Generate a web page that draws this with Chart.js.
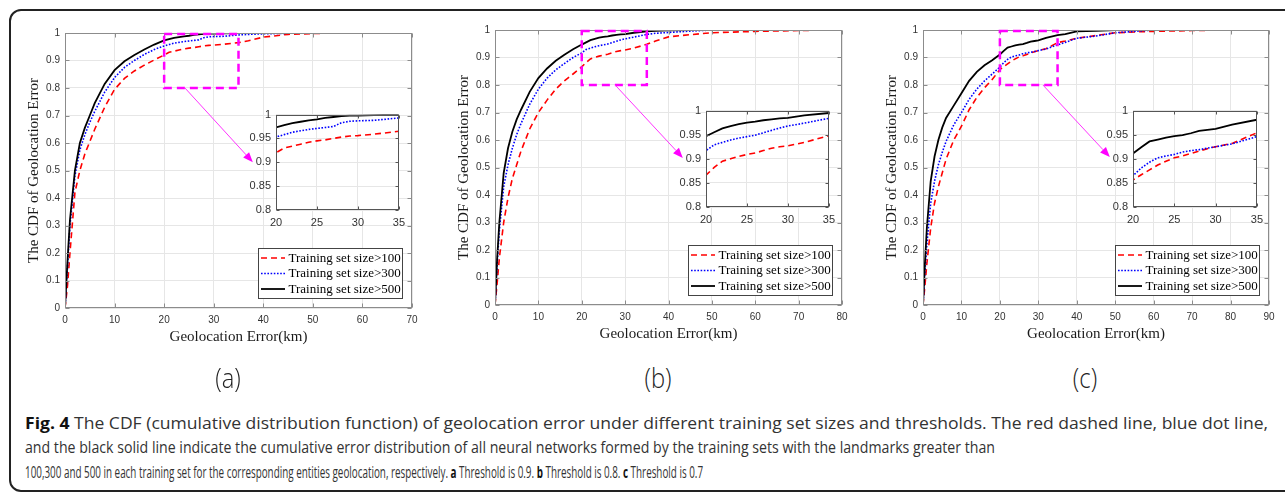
<!DOCTYPE html>
<html>
<head>
<meta charset="utf-8">
<script src="https://cdn.jsdelivr.net/npm/chart.js@4.4.1/dist/chart.umd.min.js"></script>
<style>
  html, body { margin: 0; padding: 0; background: #fff; }
  #page { position: relative; width: 1285px; height: 494px; overflow: hidden; }
  #frame { position: absolute; left: 9px; top: 9px; width: 1300px; height: 479px; border: 2px solid #222; border-radius: 12px; }
  canvas { position: absolute; }
  .tag { position: absolute; top: 358px; font: 300 28px "Open Sans", sans-serif; color: #222; transform: translateX(-50%) scaleX(0.85); }
  .cap { position: absolute; left: 25px; width: max-content; white-space: nowrap; font: 16px/20px "Open Sans", sans-serif; color: #333; transform-origin: 0 0; }
  .cap b { color: #111; }
</style>
</head>
<body>
<div id="page">
  <div id="frame"></div>
  <div class="cap" id="cap1" data-w="1243"><b>Fig. 4</b> The CDF (cumulative distribution function) of geolocation error under different training set sizes and thresholds. The red dashed line, blue dot line,</div>
  <div class="cap" id="cap2" data-w="970">and the black solid line indicate the cumulative error distribution of all neural networks formed by the training sets with the landmarks greater than</div>
  <div class="cap" id="cap3" data-w="678">100,300 and 500 in each training set for the corresponding entities geolocation, respectively. <b>a</b> Threshold is 0.9. <b>b</b> Threshold is 0.8. <b>c</b> Threshold is 0.7</div>
</div>
<script>
// ===== data =====
const seriesNames = ["Training set size>100", "Training set size>300", "Training set size>500"];
const panelTags = ["(a)", "(b)", "(c)"];
const errMaxKm = [70, 80, 90];

// (a) threshold 0.9
const errA = [0, 0.5, 1, 2, 3, 4, 5, 6, 8, 10, 12, 14, 16, 18, 20, 21, 22, 23, 24, 25, 26, 27, 28, 29, 30, 32, 35, 37, 40, 45, 50, 55, 60];
const cdfA100 = [0, 0.08, 0.2, 0.42, 0.5, 0.56, 0.605, 0.65, 0.73, 0.795, 0.835, 0.862, 0.883, 0.902, 0.92, 0.93, 0.934, 0.938, 0.942, 0.945, 0.947, 0.95, 0.953, 0.955, 0.956, 0.959, 0.965, 0.972, 0.985, 0.995, 0.998, 1, 1];
const cdfA300 = [0, 0.15, 0.3, 0.48, 0.575, 0.63, 0.675, 0.715, 0.785, 0.838, 0.875, 0.9, 0.922, 0.94, 0.953, 0.958, 0.963, 0.966, 0.969, 0.971, 0.973, 0.975, 0.983, 0.986, 0.987, 0.988, 0.993, 0.995, 0.997, 0.999, 1];
const cdfA500 = [0, 0.17, 0.32, 0.5, 0.6, 0.655, 0.7, 0.745, 0.815, 0.865, 0.897, 0.92, 0.94, 0.958, 0.973, 0.978, 0.982, 0.985, 0.988, 0.99, 0.993, 0.995, 0.997, 0.998, 0.998, 0.999, 1, 1, 1, 1, 1];

// (b) threshold 0.8
const errB = [0, 0.5, 1, 2, 3, 4, 5, 6, 8, 10, 12, 14, 16, 18, 20, 21, 22, 23, 24, 25, 26, 27, 28, 29, 30, 32, 35, 37, 40, 45, 50, 60, 70, 77];
const cdfB100 = [0, 0.08, 0.17, 0.3, 0.39, 0.46, 0.51, 0.56, 0.64, 0.7, 0.745, 0.785, 0.815, 0.84, 0.866, 0.882, 0.895, 0.9, 0.905, 0.909, 0.912, 0.917, 0.922, 0.925, 0.927, 0.934, 0.948, 0.96, 0.975, 0.983, 0.99, 0.995, 0.998, 1];
const cdfB300 = [0, 0.15, 0.27, 0.43, 0.51, 0.57, 0.62, 0.66, 0.73, 0.785, 0.825, 0.855, 0.878, 0.9, 0.917, 0.929, 0.934, 0.939, 0.943, 0.946, 0.949, 0.954, 0.959, 0.964, 0.968, 0.974, 0.984, 0.988, 0.991, 0.996, 1];
const cdfB500 = [0, 0.17, 0.3, 0.48, 0.57, 0.63, 0.675, 0.71, 0.775, 0.825, 0.86, 0.888, 0.91, 0.93, 0.947, 0.955, 0.963, 0.968, 0.972, 0.975, 0.977, 0.98, 0.982, 0.984, 0.985, 0.99, 0.995, 0.997, 0.999, 1, 1];

// (c) threshold 0.7
const errC = [0, 0.5, 1, 2, 3, 4, 5, 6, 8, 10, 12, 14, 16, 18, 20, 21, 22, 23, 24, 25, 26, 27, 28, 29, 30, 32, 35, 37, 40, 45, 50, 55, 60, 70, 80];
const cdfC100 = [0, 0.07, 0.15, 0.28, 0.37, 0.43, 0.48, 0.53, 0.6, 0.65, 0.71, 0.755, 0.79, 0.82, 0.856, 0.867, 0.877, 0.887, 0.895, 0.902, 0.906, 0.911, 0.916, 0.921, 0.925, 0.932, 0.954, 0.96, 0.97, 0.98, 0.99, 0.993, 0.995, 0.998, 1];
const cdfC300 = [0, 0.12, 0.22, 0.37, 0.45, 0.51, 0.555, 0.595, 0.655, 0.7, 0.748, 0.785, 0.815, 0.84, 0.865, 0.881, 0.893, 0.902, 0.906, 0.909, 0.914, 0.917, 0.919, 0.922, 0.925, 0.931, 0.946, 0.955, 0.97, 0.978, 0.99, 0.995, 1];
const cdfC500 = [0, 0.15, 0.28, 0.45, 0.54, 0.6, 0.645, 0.68, 0.725, 0.77, 0.815, 0.848, 0.872, 0.89, 0.911, 0.924, 0.936, 0.94, 0.944, 0.947, 0.949, 0.953, 0.958, 0.96, 0.962, 0.971, 0.981, 0.985, 0.995, 0.997, 1];

// ===== layout / styles =====
const lineStyles = [
  { color: "#ff0000", width: 1.6, dash: [6, 4] },
  { color: "#0000ff", width: 1.6, dash: [1.6, 1.6] },
  { color: "#000000", width: 1.8, dash: [] }
];

const panels = [
  { err: errA, cdf: [cdfA100, cdfA300, cdfA500], plot: { l: 65, t: 33, r: 412, b: 308 }, inset: { l: 276, t: 111, r: 401, b: 210 }, arrow: [[24.2, 0.8], [37.9, 0.53]], tagX: 228 },
  { err: errB, cdf: [cdfB100, cdfB300, cdfB500], plot: { l: 495, t: 30, r: 842, b: 305 }, inset: { l: 706, t: 107, r: 831, b: 207 }, arrow: [[27.7, 0.8], [43.3, 0.535]], tagX: 658 },
  { err: errC, cdf: [cdfC100, cdfC300, cdfC500], plot: { l: 923, t: 30, r: 1269, b: 305 }, inset: { l: 1133, t: 107, r: 1259, b: 207 }, arrow: [[31.2, 0.8], [48.6, 0.538]], tagX: 1085 }
];

const TICK_FONT = '"Liberation Sans", Arial, sans-serif';
const SERIF = '"Liberation Serif", "Times New Roman", serif';
const fmt = v => String(+(+v).toFixed(2));

// ===== plugins =====
// MATLAB style box + inward ticks
const boxPlugin = {
  id: "matlabBox",
  beforeDraw(chart, args, opts) {
    if (!opts.bg) return;
    const a = chart.chartArea;
    chart.ctx.save();
    chart.ctx.fillStyle = opts.bg;
    chart.ctx.fillRect(a.left, a.top, a.width, a.height);
    chart.ctx.restore();
  },
  afterDatasetsDraw(chart, args, opts) {
    const { ctx, chartArea: a, scales } = chart;
    const L = Math.round(a.left) + 0.5, R = Math.round(a.right) - 0.5;
    const T = Math.round(a.top) + 0.5, B = Math.round(a.bottom) - 0.5;
    const len = opts.tick || 4;
    ctx.save();
    ctx.strokeStyle = opts.color;
    ctx.lineWidth = 1;
    ctx.beginPath();
    scales.x.ticks.forEach(t => {
      const px = Math.round(scales.x.getPixelForValue(t.value)) + 0.5;
      ctx.moveTo(px, B); ctx.lineTo(px, B - len);
      ctx.moveTo(px, T); ctx.lineTo(px, T + len);
    });
    scales.y.ticks.forEach(t => {
      const py = Math.round(scales.y.getPixelForValue(t.value)) + 0.5;
      ctx.moveTo(L, py); ctx.lineTo(L + len, py);
      ctx.moveTo(R, py); ctx.lineTo(R - len, py);
    });
    ctx.stroke();
    ctx.strokeRect(L, T, R - L, B - T);
    ctx.restore();
  }
};

// magenta zoom rectangle + arrow
const zoomPlugin = {
  id: "zoomMark",
  afterDatasetsDraw(chart, args, opts) {
    if (!opts.rect) return;
    const { ctx, scales: { x, y } } = chart;
    const [x0, x1, y0, y1] = opts.rect;
    const L = x.getPixelForValue(x0), R = x.getPixelForValue(x1);
    const T = y.getPixelForValue(y1), B = y.getPixelForValue(y0);
    ctx.save();
    ctx.strokeStyle = "#ff00ff";
    ctx.lineWidth = 2.5;
    ctx.setLineDash([8, 5]);
    ctx.strokeRect(L, T + 1, R - L, B - T - 1);
    ctx.setLineDash([]);

    const sx = x.getPixelForValue(opts.arrow[0][0]), sy = y.getPixelForValue(opts.arrow[0][1]);
    const ex = x.getPixelForValue(opts.arrow[1][0]), ey = y.getPixelForValue(opts.arrow[1][1]);
    const ang = Math.atan2(ey - sy, ex - sx);
    const hl = 10, hw = 4;
    const bx = ex - hl * Math.cos(ang), by = ey - hl * Math.sin(ang);
    ctx.lineWidth = 1;
    ctx.strokeStyle = "#ff33ff";
    ctx.beginPath();
    ctx.moveTo(sx, sy);
    ctx.lineTo(bx, by);
    ctx.stroke();
    ctx.fillStyle = "#ff00ff";
    ctx.beginPath();
    ctx.moveTo(ex, ey);
    ctx.lineTo(bx + hw * Math.sin(ang), by - hw * Math.cos(ang));
    ctx.lineTo(bx - hw * Math.sin(ang), by + hw * Math.cos(ang));
    ctx.closePath();
    ctx.fill();
    ctx.restore();
  }
};

// legend box in the lower right corner
const legendPlugin = {
  id: "boxLegend",
  afterDraw(chart, args, opts) {
    if (!opts.show) return;
    const { ctx, chartArea: a } = chart;
    const w = 144, h = 50;
    const x0 = Math.round(a.right - 10 - w), y0 = Math.round(a.bottom - 10 - h);
    ctx.save();
    ctx.fillStyle = "#fff";
    ctx.fillRect(x0, y0, w, h);
    ctx.strokeStyle = "#444";
    ctx.lineWidth = 1;
    ctx.strokeRect(x0 + 0.5, y0 + 0.5, w, h);
    chart.data.datasets.forEach((ds, i) => {
      const yy = y0 + 10 + i * 15.5;
      ctx.strokeStyle = ds.borderColor;
      ctx.lineWidth = ds.borderWidth;
      ctx.setLineDash(ds.borderDash);
      ctx.beginPath();
      ctx.moveTo(x0 + 3, yy);
      ctx.lineTo(x0 + 27, yy);
      ctx.stroke();
      ctx.setLineDash([]);
      ctx.fillStyle = "#000";
      ctx.font = "13px " + SERIF;
      ctx.textBaseline = "middle";
      ctx.fillText(ds.label, x0 + 30.5, yy + 0.5);
    });
    ctx.restore();
  }
};

// ===== build =====
function makeDatasets(p) {
  return p.cdf.map((vals, i) => ({
    label: seriesNames[i],
    data: vals.map((v, k) => ({ x: p.err[k], y: v })),
    borderColor: lineStyles[i].color,
    borderWidth: lineStyles[i].width,
    borderDash: lineStyles[i].dash,
    pointRadius: 0,
    tension: 0,
    fill: false,
    order: 2 - i
  }));
}

function addCanvas(left, top, w, h) {
  const c = document.createElement("canvas");
  c.width = w; c.height = h;
  c.style.left = left + "px"; c.style.top = top + "px";
  c.style.width = w + "px"; c.style.height = h + "px";
  document.getElementById("page").appendChild(c);
  return c;
}

function axisOpts(min, max, step, size, pad, fit) {
  return {
    type: "linear", min, max,
    ticks: { stepSize: step, padding: pad, color: "#333", autoSkip: false, maxRotation: 0, font: { family: TICK_FONT, size }, callback: fmt },
    grid: { color: "#e6e6e6", drawTicks: false },
    border: { display: false },
    afterFit: fit
  };
}

panels.forEach((p, idx) => {
  const pl = p.plot;
  const main = addCanvas(pl.l - 55, pl.t - 15, pl.r - pl.l + 68, pl.b - pl.t + 67);
  const xs = axisOpts(0, errMaxKm[idx], 10, 10, 6, s => { s.height = 52; });
  xs.title = { display: true, text: "Geolocation Error(km)", color: "#1a1a1a", font: { family: SERIF, size: 15 }, padding: { top: 0, bottom: 14 } };
  const ys = axisOpts(0, 1, 0.1, 10, 5, s => { s.width = 55; });
  ys.title = { display: true, text: "The CDF of Geolocation Error", color: "#1a1a1a", font: { family: SERIF, size: 15 }, padding: { top: 15, bottom: 0 } };

  new Chart(main, {
    type: "line",
    data: { datasets: makeDatasets(p) },
    options: {
      responsive: false, animation: false, devicePixelRatio: 1,
      layout: { padding: { top: 15, right: 13, left: 0, bottom: 0 } },
      plugins: {
        legend: { display: false }, tooltip: { enabled: false },
        matlabBox: { color: "#8c8c8c" },
        zoomMark: { rect: [20, 35, 0.8, 1], arrow: p.arrow },
        boxLegend: { show: true }
      },
      scales: { x: xs, y: ys }
    },
    plugins: [boxPlugin, zoomPlugin, legendPlugin]
  });

  const ins = p.inset;
  const ic = addCanvas(ins.l - 40, ins.t - 8, ins.r - ins.l + 50, ins.b - ins.t + 30);
  new Chart(ic, {
    type: "line",
    data: { datasets: makeDatasets(p) },
    options: {
      responsive: false, animation: false, devicePixelRatio: 1,
      layout: { padding: { top: 8, right: 10, left: 0, bottom: 0 } },
      plugins: {
        legend: { display: false }, tooltip: { enabled: false },
        matlabBox: { color: "#555", bg: "#fff", tick: 3 }
      },
      scales: {
        x: axisOpts(20, 35, 5, 11, 6, s => { s.height = 22; }),
        y: axisOpts(0.8, 1, 0.05, 11, 5, s => { s.width = 40; })
      }
    },
    plugins: [boxPlugin]
  });

  const tag = document.createElement("div");
  tag.className = "tag";
  tag.textContent = panelTags[idx];
  tag.style.left = p.tagX + "px";
  document.getElementById("page").appendChild(tag);
});

// caption lines: baselines ~429, 453, 478, squeezed to the original line widths
[["cap1", 413], ["cap2", 437], ["cap3", 462]].forEach(([id, top]) => {
  const el = document.getElementById(id);
  el.style.top = top + "px";
  const k = +el.dataset.w / el.getBoundingClientRect().width;
  el.style.transform = "scaleX(" + k.toFixed(4) + ")";
});
</script>
</body>
</html>
